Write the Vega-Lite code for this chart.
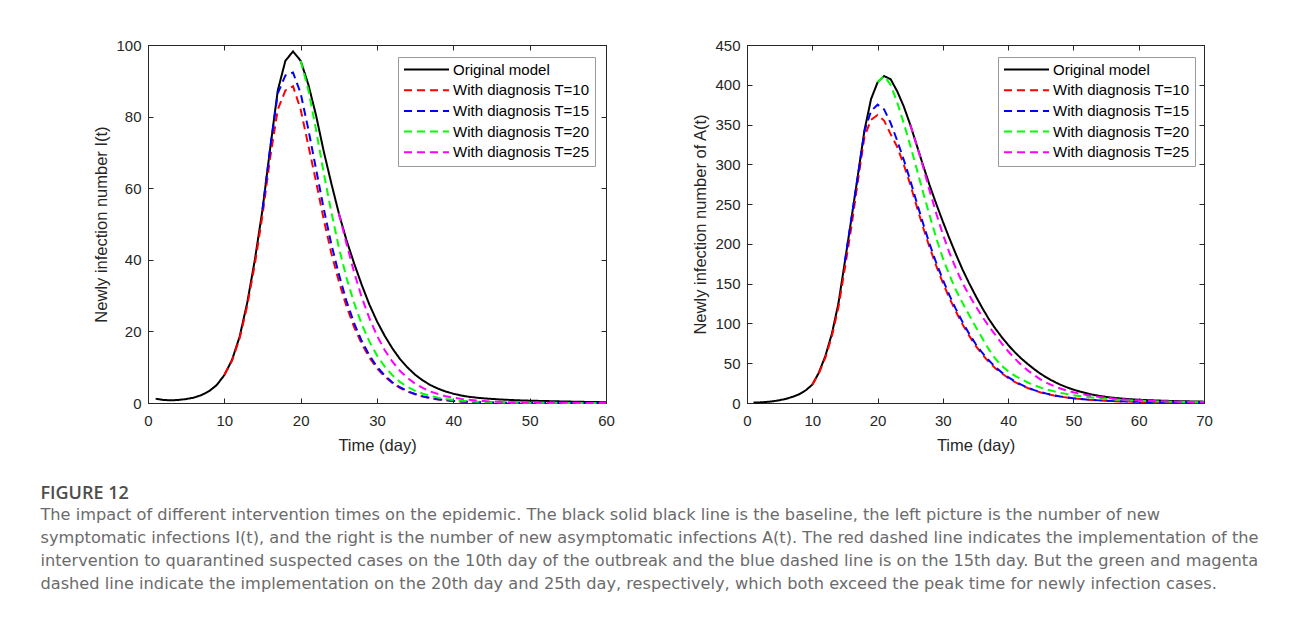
{
  "$schema": "https://vega.github.io/schema/vega-lite/v6.json",
  "padding": {"left": 40, "top": 37, "right": 5, "bottom": 5},
  "background": "white",
  "spacing": 77,
  "config": {
    "view": {"stroke": "#262626", "strokeWidth": 1},
    "axis": {"labelFont": "Liberation Sans", "labelFontSize": 15, "labelColor": "#262626", "titleFont": "Liberation Sans", "titleFontSize": 16.5, "titleFontWeight": "normal", "titleColor": "#262626", "domainColor": "#262626", "tickColor": "#262626", "tickSize": -5, "grid": false, "domainWidth": 1, "tickWidth": 1, "labelFlush": false},
    "axisX": {"labelPadding": 15.5, "titlePadding": 9},
    "axisY": {"labelPadding": 12, "titlePadding": 6},
    "legend": {"orient": "none", "legendX": 250, "legendY": 12, "fillColor": "white", "strokeColor": "#9a9a9a", "padding": 5, "symbolType": "stroke", "symbolSize": 2025, "symbolStrokeWidth": 2, "labelFont": "Liberation Sans", "labelFontSize": 15, "labelColor": "#000000", "labelOffset": 3, "clipHeight": 15, "rowPadding": 4.7, "labelLimit": 300}
  },
  "title": {
    "text": "FIGURE 12",
    "subtitle": [
      "The impact of different intervention times on the epidemic. The black solid black line is the baseline, the left picture is the number of new",
      "symptomatic infections I(t), and the right is the number of new asymptomatic infections A(t). The red dashed line indicates the implementation of the",
      "intervention to quarantined suspected cases on the 10th day of the outbreak and the blue dashed line is on the 15th day. But the green and magenta",
      "dashed line indicate the implementation on the 20th day and 25th day, respectively, which both exceed the peak time for newly infection cases."
    ],
    "orient": "bottom", "anchor": "start", "frame": "bounds",
    "font": "Open Sans", "fontSize": 18, "fontWeight": 600, "color": "#4d4d4d",
    "subtitleFont": "DejaVu Sans", "subtitleFontSize": 16.2, "subtitleColor": "#6b6b6b", "subtitleLineHeight": 23.3, "subtitlePadding": 4,
    "offset": 30, "dx": -53
  },
  "resolve": {"scale": {"color": "independent", "strokeDash": "independent"}, "legend": {"color": "independent", "strokeDash": "independent"}},
  "datasets": {
    "left": [
      {"s":"Original","t":1,"v":1.2},{"s":"Original","t":2,"v":0.85},{"s":"Original","t":3,"v":0.75},{"s":"Original","t":4,"v":0.85},{"s":"Original","t":5,"v":1.1},{"s":"Original","t":6,"v":1.5},{"s":"Original","t":7,"v":2.2},{"s":"Original","t":8,"v":3.3},{"s":"Original","t":9,"v":5.0},{"s":"Original","t":10,"v":7.8},{"s":"Original","t":11,"v":12},{"s":"Original","t":12,"v":18.5},{"s":"Original","t":13,"v":28},{"s":"Original","t":14,"v":40},{"s":"Original","t":15,"v":54},{"s":"Original","t":16,"v":71},{"s":"Original","t":17,"v":87.3},{"s":"Original","t":18,"v":95.6},{"s":"Original","t":19,"v":98.2},{"s":"Original","t":20,"v":95.6},{"s":"Original","t":21,"v":89},{"s":"Original","t":22,"v":80.5},{"s":"Original","t":23,"v":70.5},{"s":"Original","t":24,"v":61.5},{"s":"Original","t":25,"v":53},{"s":"Original","t":26,"v":45.5},{"s":"Original","t":27,"v":39},{"s":"Original","t":28,"v":33},{"s":"Original","t":29,"v":27.5},{"s":"Original","t":30,"v":22.8},{"s":"Original","t":31,"v":18.8},{"s":"Original","t":32,"v":15.3},{"s":"Original","t":33,"v":12.3},{"s":"Original","t":34,"v":9.9},{"s":"Original","t":35,"v":7.9},{"s":"Original","t":36,"v":6.3},{"s":"Original","t":37,"v":5.0},{"s":"Original","t":38,"v":4.0},{"s":"Original","t":39,"v":3.2},{"s":"Original","t":40,"v":2.6},{"s":"Original","t":41,"v":2.1},{"s":"Original","t":42,"v":1.75},{"s":"Original","t":43,"v":1.5},{"s":"Original","t":44,"v":1.3},{"s":"Original","t":45,"v":1.15},{"s":"Original","t":46,"v":1.0},{"s":"Original","t":47,"v":0.9},{"s":"Original","t":48,"v":0.8},{"s":"Original","t":49,"v":0.72},{"s":"Original","t":50,"v":0.65},{"s":"Original","t":51,"v":0.6},{"s":"Original","t":52,"v":0.55},{"s":"Original","t":53,"v":0.5},{"s":"Original","t":54,"v":0.45},{"s":"Original","t":55,"v":0.4},{"s":"Original","t":56,"v":0.36},{"s":"Original","t":57,"v":0.32},{"s":"Original","t":58,"v":0.28},{"s":"Original","t":59,"v":0.25},{"s":"Original","t":60,"v":0.22},
      {"s":"T=10","t":10,"v":7.8},{"s":"T=10","t":11,"v":11.8},{"s":"T=10","t":12,"v":18},{"s":"T=10","t":13,"v":27.2},{"s":"T=10","t":14,"v":38.8},{"s":"T=10","t":15,"v":52.5},{"s":"T=10","t":16,"v":68.5},{"s":"T=10","t":17,"v":82},{"s":"T=10","t":18,"v":87.3},{"s":"T=10","t":19,"v":88.5},{"s":"T=10","t":20,"v":82},{"s":"T=10","t":21,"v":72},{"s":"T=10","t":22,"v":62},{"s":"T=10","t":23,"v":51.5},{"s":"T=10","t":24,"v":42},{"s":"T=10","t":25,"v":34},{"s":"T=10","t":26,"v":27},{"s":"T=10","t":27,"v":21.2},{"s":"T=10","t":28,"v":16.5},{"s":"T=10","t":29,"v":12.7},{"s":"T=10","t":30,"v":9.7},{"s":"T=10","t":31,"v":7.4},{"s":"T=10","t":32,"v":5.6},{"s":"T=10","t":33,"v":4.2},{"s":"T=10","t":34,"v":3.2},{"s":"T=10","t":35,"v":2.4},{"s":"T=10","t":36,"v":1.8},{"s":"T=10","t":37,"v":1.35},{"s":"T=10","t":38,"v":1.0},{"s":"T=10","t":39,"v":0.75},{"s":"T=10","t":40,"v":0.55},{"s":"T=10","t":41,"v":0.42},{"s":"T=10","t":42,"v":0.32},{"s":"T=10","t":43,"v":0.25},{"s":"T=10","t":44,"v":0.2},{"s":"T=10","t":45,"v":0.16},{"s":"T=10","t":46,"v":0.13},{"s":"T=10","t":47,"v":0.1},{"s":"T=10","t":48,"v":0.08},{"s":"T=10","t":50,"v":0.06},{"s":"T=10","t":52,"v":0.04},{"s":"T=10","t":55,"v":0.03},{"s":"T=10","t":58,"v":0.02},{"s":"T=10","t":60,"v":0.02},
      {"s":"T=15","t":15,"v":54},{"s":"T=15","t":16,"v":71},{"s":"T=15","t":17,"v":86.5},{"s":"T=15","t":18,"v":91.5},{"s":"T=15","t":19,"v":92.3},{"s":"T=15","t":20,"v":86.5},{"s":"T=15","t":21,"v":76.5},{"s":"T=15","t":22,"v":65.5},{"s":"T=15","t":23,"v":54.5},{"s":"T=15","t":24,"v":44.5},{"s":"T=15","t":25,"v":36},{"s":"T=15","t":26,"v":28.5},{"s":"T=15","t":27,"v":22.3},{"s":"T=15","t":28,"v":17.3},{"s":"T=15","t":29,"v":13.3},{"s":"T=15","t":30,"v":10.1},{"s":"T=15","t":31,"v":7.7},{"s":"T=15","t":32,"v":5.8},{"s":"T=15","t":33,"v":4.4},{"s":"T=15","t":34,"v":3.3},{"s":"T=15","t":35,"v":2.5},{"s":"T=15","t":36,"v":1.85},{"s":"T=15","t":37,"v":1.4},{"s":"T=15","t":38,"v":1.05},{"s":"T=15","t":39,"v":0.78},{"s":"T=15","t":40,"v":0.58},{"s":"T=15","t":41,"v":0.44},{"s":"T=15","t":42,"v":0.33},{"s":"T=15","t":43,"v":0.26},{"s":"T=15","t":44,"v":0.2},{"s":"T=15","t":45,"v":0.16},{"s":"T=15","t":46,"v":0.13},{"s":"T=15","t":47,"v":0.1},{"s":"T=15","t":48,"v":0.08},{"s":"T=15","t":50,"v":0.06},{"s":"T=15","t":52,"v":0.04},{"s":"T=15","t":55,"v":0.03},{"s":"T=15","t":58,"v":0.02},{"s":"T=15","t":60,"v":0.02},
      {"s":"T=20","t":20,"v":95.6},{"s":"T=20","t":21,"v":87.5},{"s":"T=20","t":22,"v":76.5},{"s":"T=20","t":23,"v":64.5},{"s":"T=20","t":24,"v":53.5},{"s":"T=20","t":25,"v":43.5},{"s":"T=20","t":26,"v":35},{"s":"T=20","t":27,"v":28},{"s":"T=20","t":28,"v":22},{"s":"T=20","t":29,"v":17.2},{"s":"T=20","t":30,"v":13.3},{"s":"T=20","t":31,"v":10.2},{"s":"T=20","t":32,"v":7.8},{"s":"T=20","t":33,"v":5.9},{"s":"T=20","t":34,"v":4.5},{"s":"T=20","t":35,"v":3.4},{"s":"T=20","t":36,"v":2.6},{"s":"T=20","t":37,"v":1.95},{"s":"T=20","t":38,"v":1.5},{"s":"T=20","t":39,"v":1.1},{"s":"T=20","t":40,"v":0.85},{"s":"T=20","t":41,"v":0.65},{"s":"T=20","t":42,"v":0.5},{"s":"T=20","t":43,"v":0.38},{"s":"T=20","t":44,"v":0.3},{"s":"T=20","t":45,"v":0.23},{"s":"T=20","t":46,"v":0.18},{"s":"T=20","t":47,"v":0.14},{"s":"T=20","t":48,"v":0.11},{"s":"T=20","t":50,"v":0.07},{"s":"T=20","t":52,"v":0.05},{"s":"T=20","t":55,"v":0.03},{"s":"T=20","t":58,"v":0.02},{"s":"T=20","t":60,"v":0.02},
      {"s":"T=25","t":25,"v":53},{"s":"T=25","t":26,"v":44.5},{"s":"T=25","t":27,"v":36.5},{"s":"T=25","t":28,"v":29.5},{"s":"T=25","t":29,"v":23.7},{"s":"T=25","t":30,"v":18.8},{"s":"T=25","t":31,"v":14.8},{"s":"T=25","t":32,"v":11.6},{"s":"T=25","t":33,"v":9.0},{"s":"T=25","t":34,"v":7.0},{"s":"T=25","t":35,"v":5.4},{"s":"T=25","t":36,"v":4.2},{"s":"T=25","t":37,"v":3.2},{"s":"T=25","t":38,"v":2.5},{"s":"T=25","t":39,"v":1.9},{"s":"T=25","t":40,"v":1.5},{"s":"T=25","t":41,"v":1.15},{"s":"T=25","t":42,"v":0.88},{"s":"T=25","t":43,"v":0.68},{"s":"T=25","t":44,"v":0.53},{"s":"T=25","t":45,"v":0.41},{"s":"T=25","t":46,"v":0.32},{"s":"T=25","t":47,"v":0.25},{"s":"T=25","t":48,"v":0.2},{"s":"T=25","t":50,"v":0.13},{"s":"T=25","t":52,"v":0.09},{"s":"T=25","t":55,"v":0.05},{"s":"T=25","t":58,"v":0.03},{"s":"T=25","t":60,"v":0.02}
    ],
    "right": [
      {"s":"Original","t":1,"v":0.5},{"s":"Original","t":2,"v":0.8},{"s":"Original","t":3,"v":1.3},{"s":"Original","t":4,"v":2.2},{"s":"Original","t":5,"v":3.5},{"s":"Original","t":6,"v":5.3},{"s":"Original","t":7,"v":7.8},{"s":"Original","t":8,"v":11},{"s":"Original","t":9,"v":16},{"s":"Original","t":10,"v":23},{"s":"Original","t":11,"v":38},{"s":"Original","t":12,"v":59},{"s":"Original","t":13,"v":87},{"s":"Original","t":14,"v":125},{"s":"Original","t":15,"v":178},{"s":"Original","t":16,"v":232},{"s":"Original","t":17,"v":287},{"s":"Original","t":18,"v":343},{"s":"Original","t":19,"v":382},{"s":"Original","t":20,"v":403},{"s":"Original","t":21,"v":411},{"s":"Original","t":22,"v":407},{"s":"Original","t":23,"v":392},{"s":"Original","t":24,"v":373},{"s":"Original","t":25,"v":350},{"s":"Original","t":26,"v":324},{"s":"Original","t":27,"v":298},{"s":"Original","t":28,"v":273},{"s":"Original","t":29,"v":250},{"s":"Original","t":30,"v":228},{"s":"Original","t":31,"v":207},{"s":"Original","t":32,"v":187},{"s":"Original","t":33,"v":168},{"s":"Original","t":34,"v":151},{"s":"Original","t":35,"v":135},{"s":"Original","t":36,"v":120},{"s":"Original","t":37,"v":106},{"s":"Original","t":38,"v":94},{"s":"Original","t":39,"v":83},{"s":"Original","t":40,"v":73},{"s":"Original","t":41,"v":64},{"s":"Original","t":42,"v":56},{"s":"Original","t":43,"v":49},{"s":"Original","t":44,"v":42.5},{"s":"Original","t":45,"v":36.5},{"s":"Original","t":46,"v":31.5},{"s":"Original","t":47,"v":27},{"s":"Original","t":48,"v":23},{"s":"Original","t":49,"v":19.7},{"s":"Original","t":50,"v":16.8},{"s":"Original","t":51,"v":14.3},{"s":"Original","t":52,"v":12.2},{"s":"Original","t":53,"v":10.4},{"s":"Original","t":54,"v":8.9},{"s":"Original","t":55,"v":7.7},{"s":"Original","t":56,"v":6.7},{"s":"Original","t":57,"v":5.9},{"s":"Original","t":58,"v":5.2},{"s":"Original","t":59,"v":4.6},{"s":"Original","t":60,"v":4.1},{"s":"Original","t":61,"v":3.7},{"s":"Original","t":62,"v":3.4},{"s":"Original","t":63,"v":3.1},{"s":"Original","t":64,"v":2.8},{"s":"Original","t":65,"v":2.6},{"s":"Original","t":66,"v":2.4},{"s":"Original","t":67,"v":2.2},{"s":"Original","t":68,"v":2.0},{"s":"Original","t":69,"v":1.85},{"s":"Original","t":70,"v":1.7},
      {"s":"T=10","t":10,"v":23},{"s":"T=10","t":11,"v":37},{"s":"T=10","t":12,"v":57},{"s":"T=10","t":13,"v":84},{"s":"T=10","t":14,"v":120},{"s":"T=10","t":15,"v":170},{"s":"T=10","t":16,"v":222},{"s":"T=10","t":17,"v":280},{"s":"T=10","t":18,"v":335},{"s":"T=10","t":19,"v":356},{"s":"T=10","t":20,"v":362},{"s":"T=10","t":21,"v":355},{"s":"T=10","t":22,"v":338},{"s":"T=10","t":23,"v":322},{"s":"T=10","t":24,"v":300},{"s":"T=10","t":25,"v":275},{"s":"T=10","t":26,"v":247},{"s":"T=10","t":27,"v":220},{"s":"T=10","t":28,"v":195},{"s":"T=10","t":29,"v":172},{"s":"T=10","t":30,"v":151},{"s":"T=10","t":31,"v":132},{"s":"T=10","t":32,"v":115},{"s":"T=10","t":33,"v":99},{"s":"T=10","t":34,"v":85},{"s":"T=10","t":35,"v":72},{"s":"T=10","t":36,"v":61.5},{"s":"T=10","t":37,"v":52},{"s":"T=10","t":38,"v":44},{"s":"T=10","t":39,"v":37.5},{"s":"T=10","t":40,"v":31.5},{"s":"T=10","t":41,"v":26.5},{"s":"T=10","t":42,"v":22.3},{"s":"T=10","t":43,"v":18.8},{"s":"T=10","t":44,"v":15.8},{"s":"T=10","t":45,"v":13.3},{"s":"T=10","t":46,"v":11.2},{"s":"T=10","t":47,"v":9.5},{"s":"T=10","t":48,"v":8},{"s":"T=10","t":49,"v":6.8},{"s":"T=10","t":50,"v":5.8},{"s":"T=10","t":52,"v":4.3},{"s":"T=10","t":54,"v":3.2},{"s":"T=10","t":56,"v":2.4},{"s":"T=10","t":58,"v":1.8},{"s":"T=10","t":60,"v":1.4},{"s":"T=10","t":62,"v":1.1},{"s":"T=10","t":65,"v":0.8},{"s":"T=10","t":68,"v":0.55},{"s":"T=10","t":70,"v":0.45},
      {"s":"T=15","t":15,"v":178},{"s":"T=15","t":16,"v":232},{"s":"T=15","t":17,"v":286},{"s":"T=15","t":18,"v":342},{"s":"T=15","t":19,"v":367},{"s":"T=15","t":20,"v":375},{"s":"T=15","t":21,"v":369},{"s":"T=15","t":22,"v":352},{"s":"T=15","t":23,"v":330},{"s":"T=15","t":24,"v":306},{"s":"T=15","t":25,"v":280},{"s":"T=15","t":26,"v":252},{"s":"T=15","t":27,"v":225},{"s":"T=15","t":28,"v":199},{"s":"T=15","t":29,"v":176},{"s":"T=15","t":30,"v":155},{"s":"T=15","t":31,"v":135.5},{"s":"T=15","t":32,"v":118},{"s":"T=15","t":33,"v":102},{"s":"T=15","t":34,"v":87.5},{"s":"T=15","t":35,"v":74.5},{"s":"T=15","t":36,"v":63.5},{"s":"T=15","t":37,"v":54},{"s":"T=15","t":38,"v":45.5},{"s":"T=15","t":39,"v":38.5},{"s":"T=15","t":40,"v":32.5},{"s":"T=15","t":41,"v":27.3},{"s":"T=15","t":42,"v":23},{"s":"T=15","t":43,"v":19.3},{"s":"T=15","t":44,"v":16.2},{"s":"T=15","t":45,"v":13.6},{"s":"T=15","t":46,"v":11.5},{"s":"T=15","t":47,"v":9.7},{"s":"T=15","t":48,"v":8.2},{"s":"T=15","t":49,"v":7},{"s":"T=15","t":50,"v":6},{"s":"T=15","t":52,"v":4.4},{"s":"T=15","t":54,"v":3.3},{"s":"T=15","t":56,"v":2.5},{"s":"T=15","t":58,"v":1.9},{"s":"T=15","t":60,"v":1.45},{"s":"T=15","t":62,"v":1.1},{"s":"T=15","t":65,"v":0.8},{"s":"T=15","t":68,"v":0.55},{"s":"T=15","t":70,"v":0.45},
      {"s":"T=20","t":20,"v":403},{"s":"T=20","t":21,"v":411},{"s":"T=20","t":22,"v":400},{"s":"T=20","t":23,"v":378},{"s":"T=20","t":24,"v":352},{"s":"T=20","t":25,"v":324},{"s":"T=20","t":26,"v":294},{"s":"T=20","t":27,"v":264},{"s":"T=20","t":28,"v":235},{"s":"T=20","t":29,"v":207},{"s":"T=20","t":30,"v":182},{"s":"T=20","t":31,"v":161},{"s":"T=20","t":32,"v":142},{"s":"T=20","t":33,"v":126},{"s":"T=20","t":34,"v":111},{"s":"T=20","t":35,"v":96},{"s":"T=20","t":36,"v":82},{"s":"T=20","t":37,"v":68},{"s":"T=20","t":38,"v":56},{"s":"T=20","t":39,"v":47},{"s":"T=20","t":40,"v":40},{"s":"T=20","t":41,"v":34.5},{"s":"T=20","t":42,"v":30},{"s":"T=20","t":43,"v":25.8},{"s":"T=20","t":44,"v":22.3},{"s":"T=20","t":45,"v":19.3},{"s":"T=20","t":46,"v":16.8},{"s":"T=20","t":47,"v":14.7},{"s":"T=20","t":48,"v":12.8},{"s":"T=20","t":49,"v":11.2},{"s":"T=20","t":50,"v":9.8},{"s":"T=20","t":52,"v":7.6},{"s":"T=20","t":54,"v":5.9},{"s":"T=20","t":56,"v":4.6},{"s":"T=20","t":58,"v":3.6},{"s":"T=20","t":60,"v":2.8},{"s":"T=20","t":62,"v":2.2},{"s":"T=20","t":65,"v":1.6},{"s":"T=20","t":68,"v":1.15},{"s":"T=20","t":70,"v":0.95},
      {"s":"T=25","t":25,"v":350},{"s":"T=25","t":26,"v":324},{"s":"T=25","t":27,"v":296},{"s":"T=25","t":28,"v":266},{"s":"T=25","t":29,"v":238},{"s":"T=25","t":30,"v":212},{"s":"T=25","t":31,"v":189},{"s":"T=25","t":32,"v":169},{"s":"T=25","t":33,"v":151},{"s":"T=25","t":34,"v":136},{"s":"T=25","t":35,"v":122},{"s":"T=25","t":36,"v":109},{"s":"T=25","t":37,"v":97},{"s":"T=25","t":38,"v":86},{"s":"T=25","t":39,"v":75},{"s":"T=25","t":40,"v":65},{"s":"T=25","t":41,"v":56},{"s":"T=25","t":42,"v":48},{"s":"T=25","t":43,"v":41},{"s":"T=25","t":44,"v":35},{"s":"T=25","t":45,"v":29.5},{"s":"T=25","t":46,"v":25},{"s":"T=25","t":47,"v":21.3},{"s":"T=25","t":48,"v":18.2},{"s":"T=25","t":49,"v":15.6},{"s":"T=25","t":50,"v":13.4},{"s":"T=25","t":52,"v":10},{"s":"T=25","t":54,"v":7.5},{"s":"T=25","t":56,"v":5.7},{"s":"T=25","t":58,"v":4.3},{"s":"T=25","t":60,"v":3.3},{"s":"T=25","t":62,"v":2.6},{"s":"T=25","t":65,"v":1.9},{"s":"T=25","t":68,"v":1.4},{"s":"T=25","t":70,"v":1.15}
    ]
  },
  "hconcat": [
    {
      "width": 458, "height": 358,
      "data": {"name": "left"},
      "layer": [
        {
          "mark": {"type": "line", "strokeWidth": 2},
          "encoding": {
            "x": {"field": "t", "type": "quantitative", "scale": {"domain": [0, 60], "nice": false}, "axis": {"title": "Time (day)", "values": [0, 10, 20, 30, 40, 50, 60]}},
            "y": {"field": "v", "type": "quantitative", "scale": {"domain": [0, 100], "nice": false}, "axis": {"title": "Newly infection number I(t)", "values": [0, 20, 40, 60, 80, 100]}},
            "color": {"field": "s", "type": "nominal", "scale": {"domain": ["Original", "T=10", "T=15", "T=20", "T=25"], "range": ["#000000", "#ff0000", "#0000ff", "#00ff00", "#ff00ff"]}, "legend": {"title": null, "legendX": 250, "legendY": 12, "labelExpr": "datum.label == 'Original' ? 'Original model' : 'With diagnosis ' + datum.label"}},
            "strokeDash": {"field": "s", "type": "nominal", "scale": {"domain": ["Original", "T=10", "T=15", "T=20", "T=25"], "range": [[1, 0], [8, 5], [8, 5], [8, 5], [8, 5]]}, "legend": {"title": null, "legendX": 250, "legendY": 12, "labelExpr": "datum.label == 'Original' ? 'Original model' : 'With diagnosis ' + datum.label"}}
          }
        },
        {
          "mark": {"type": "line", "opacity": 0},
          "encoding": {
            "x": {"field": "t", "type": "quantitative", "axis": {"orient": "top", "labels": false, "title": null, "values": [0, 10, 20, 30, 40, 50, 60]}},
            "y": {"field": "v", "type": "quantitative", "axis": {"orient": "right", "labels": false, "title": null, "values": [0, 20, 40, 60, 80, 100]}},
            "detail": {"field": "s"}
          }
        }
      ],
      "resolve": {"axis": {"x": "independent", "y": "independent"}}
    },
    {
      "width": 457, "height": 358,
      "data": {"name": "right"},
      "layer": [
        {
          "mark": {"type": "line", "strokeWidth": 2},
          "encoding": {
            "x": {"field": "t", "type": "quantitative", "scale": {"domain": [0, 70], "nice": false}, "axis": {"title": "Time (day)", "values": [0, 10, 20, 30, 40, 50, 60, 70]}},
            "y": {"field": "v", "type": "quantitative", "scale": {"domain": [0, 450], "nice": false}, "axis": {"title": "Newly infection number of A(t)", "values": [0, 50, 100, 150, 200, 250, 300, 350, 400, 450]}},
            "color": {"field": "s", "type": "nominal", "scale": {"domain": ["Original", "T=10", "T=15", "T=20", "T=25"], "range": ["#000000", "#ff0000", "#0000ff", "#00ff00", "#ff00ff"]}, "legend": {"title": null, "legendX": 251, "legendY": 12, "labelExpr": "datum.label == 'Original' ? 'Original model' : 'With diagnosis ' + datum.label"}},
            "strokeDash": {"field": "s", "type": "nominal", "scale": {"domain": ["Original", "T=10", "T=15", "T=20", "T=25"], "range": [[1, 0], [8, 5], [8, 5], [8, 5], [8, 5]]}, "legend": {"title": null, "legendX": 251, "legendY": 12, "labelExpr": "datum.label == 'Original' ? 'Original model' : 'With diagnosis ' + datum.label"}}
          }
        },
        {
          "mark": {"type": "line", "opacity": 0},
          "encoding": {
            "x": {"field": "t", "type": "quantitative", "axis": {"orient": "top", "labels": false, "title": null, "values": [0, 10, 20, 30, 40, 50, 60, 70]}},
            "y": {"field": "v", "type": "quantitative", "axis": {"orient": "right", "labels": false, "title": null, "values": [0, 50, 100, 150, 200, 250, 300, 350, 400, 450]}},
            "detail": {"field": "s"}
          }
        }
      ],
      "resolve": {"axis": {"x": "independent", "y": "independent"}}
    }
  ]
}
